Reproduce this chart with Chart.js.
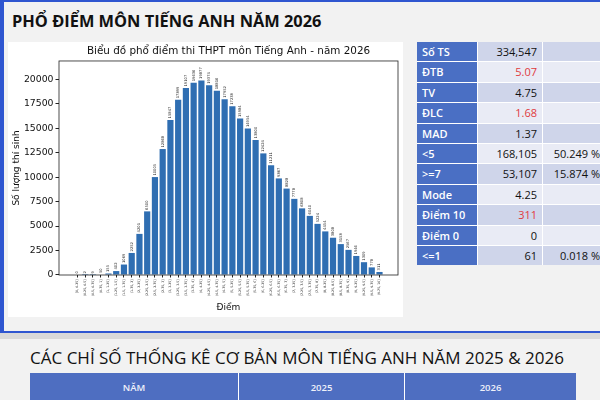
<!DOCTYPE html>
<html>
<head>
<meta charset="utf-8">
<script src="https://cdn.jsdelivr.net/npm/chart.js@4.4.1/dist/chart.umd.min.js"></script>
<style>
html, body { margin: 0; padding: 0; width: 600px; height: 400px; overflow: hidden; background: #d9d9d9; font-family: "Open Sans", "Noto Sans", sans-serif; }
#panel1 { position: absolute; left: 0; top: 0; width: 600px; height: 333px; background: #f2f2f2; box-sizing: border-box;
  border-top: 2px solid #2f56d0; border-left: 4px solid #2f56d0; border-bottom: 2px solid #2f56d0; }
#title1 { position: absolute; left: 12px; top: 13px; font-size: 16.4px; line-height: 16px; font-weight: 700; color: #111; white-space: nowrap; }
#chartBox { position: absolute; left: 8px; top: 42px; width: 395px; height: 275px; background: #fff; }
#stats { position: absolute; left: 417px; top: 42px; width: 190px; display: grid; grid-template-columns: 60px 64px 62px;
  grid-auto-rows: 19.4px; gap: 1px; background: #fff; font-size: 11px; }
#stats div { line-height: 19.4px; white-space: nowrap; }
#stats .lab { background: #4a6fc4; color: #fff; font-weight: 600; padding-left: 5px; }
#stats .val { text-align: right; padding-right: 5px; color: #111; }
#stats .dark { background: #cfd5ea; }
#stats .light { background: #e9ebf5; }
#stats .red { color: #e03a3e; }
#panel2 { position: absolute; left: 0; top: 339px; width: 600px; height: 61px; background: #f2f2f2; }
#title2 { position: absolute; left: 0; width: 594px; top: 349px; text-align: center; font-size: 17px; line-height: 17px; color: #111; white-space: nowrap; }
#yearHead { position: absolute; left: 30px; top: 373px; height: 30px; display: flex; gap: 1px; background: #fff; }
#yearHead div { background: #4e6ec1; color: #eef1fa; font-size: 9.5px; font-weight: 600; line-height: 30px; text-align: center; }
</style>
</head>
<body>
<div id="panel1"></div>
<div id="title1">PHỔ ĐIỂM MÔN TIẾNG ANH NĂM 2026</div>
<div id="chartBox"><canvas id="myChart" width="395" height="275"></canvas></div>
<div id="stats"></div>
<div id="panel2"></div>
<div id="title2">CÁC CHỈ SỐ THỐNG KÊ CƠ BẢN MÔN TIẾNG ANH NĂM 2025 &amp; 2026</div>
<div id="yearHead">
  <div style="width:208px">NĂM</div><div style="width:165px">2025</div><div style="width:171px">2026</div>
</div>
<script>
// Score bins (x labels) and number of students per bin
const scoreBins = [
    '[0, 0.25]', '(0.25, 0.5]', '(0.5, 0.75]', '(0.75, 1]', '(1, 1.25]', '(1.25, 1.5]', '(1.5, 1.75]', '(1.75, 2]',
    '(2, 2.25]', '(2.25, 2.5]', '(2.5, 2.75]', '(2.75, 3]', '(3, 3.25]', '(3.25, 3.5]', '(3.5, 3.75]', '(3.75, 4]',
    '(4, 4.25]', '(4.25, 4.5]', '(4.5, 4.75]', '(4.75, 5]', '(5, 5.25]', '(5.25, 5.5]', '(5.5, 5.75]', '(5.75, 6]',
    '(6, 6.25]', '(6.25, 6.5]', '(6.5, 6.75]', '(6.75, 7]', '(7, 7.25]', '(7.25, 7.5]', '(7.5, 7.75]', '(7.75, 8]',
    '(8, 8.25]', '(8.25, 8.5]', '(8.5, 8.75]', '(8.75, 9]', '(9, 9.25]', '(9.25, 9.5]', '(9.5, 9.75]', '(9.75, 10]'
];
const studentCounts = [
    0, 2, 9, 50, 155, 402, 1069, 2252, 4201, 6500,
    10005, 12868, 15847, 17899, 19107, 19636, 19877, 19374, 18816, 17952,
    17238, 15984, 14954, 13800, 12424, 11211, 9867, 8828, 7778, 6808,
    6040, 5224, 4454, 3808, 3158, 2567, 1946, 1309, 778, 311
];
const yTicks = [0, 2500, 5000, 7500, 10000, 12500, 15000, 17500, 20000];

// Stats table on the right
const statLabels = ['Số TS', 'ĐTB', 'TV', 'ĐLC', 'MAD', '<5', '>=7', 'Mode', 'Điểm 10', 'Điểm 0', '<=1'];
const statValues = ['334,547', '5.07', '4.75', '1.68', '1.37', '168,105', '53,107', '4.25', '311', '0', '61'];
const statPercents = ['', '', '', '', '', '50.249 %', '15.874 %', '', '', '', '0.018 %'];
const statRed = ['ĐTB', 'ĐLC', 'Điểm 10'];

const stats = document.getElementById('stats');
statLabels.forEach((lab, i) => {
    const shade = i % 2 === 0 ? 'dark' : 'light';
    const red = statRed.includes(lab) ? ' red' : '';
    const a = document.createElement('div'); a.className = 'lab'; a.textContent = lab;
    const b = document.createElement('div'); b.className = 'val ' + shade + red; b.textContent = statValues[i];
    const c = document.createElement('div'); c.className = 'val ' + shade; c.textContent = statPercents[i];
    stats.append(a, b, c);
});

// value text above every bar
const barValueLabels = {
    id: 'barValueLabels',
    afterDatasetsDraw(chart) {
        const ctx = chart.ctx;
        const meta = chart.getDatasetMeta(0);
        ctx.save();
        ctx.font = '3.7px "DejaVu Sans"';
        ctx.fillStyle = '#222';
        ctx.textAlign = 'left';
        ctx.textBaseline = 'middle';
        meta.data.forEach((bar, i) => {
            ctx.save();
            ctx.translate(bar.x, bar.y - 1.5);
            ctx.rotate(-Math.PI / 2);
            ctx.fillText(String(studentCounts[i]), 0, 0);
            ctx.restore();
        });
        ctx.restore();
    }
};

// box around the plot like matplotlib spines
const axesFrame = {
    id: 'axesFrame',
    afterDraw(chart) {
        const { ctx, chartArea: a } = chart;
        ctx.save();
        ctx.strokeStyle = '#222';
        ctx.lineWidth = 0.8;
        ctx.strokeRect(a.left, a.top, a.right - a.left, a.bottom - a.top);
        ctx.restore();
    }
};

const maxY = Math.max(...studentCounts) * 1.1;

const ctx = document.getElementById('myChart').getContext('2d');
const myChart = new Chart(ctx, {
    type: 'bar',
    data: {
        datasets: [{
            label: 'Số lượng thí sinh',
            data: studentCounts.map((v, i) => ({ x: i, y: v })),
            backgroundColor: '#2f6eb2',
            barPercentage: 0.8,
            categoryPercentage: 1.0
        }]
    },
    options: {
        responsive: false,
        animation: false,
        layout: { padding: { left: 0, right: 5, top: 0, bottom: 0 } },
        plugins: {
            legend: { display: false },
            tooltip: { enabled: false },
            title: {
                display: true,
                text: 'Biểu đồ phổ điểm thi THPT môn Tiếng Anh - năm 2026',
                fullSize: false,
                color: '#111',
                font: { family: 'DejaVu Sans', size: 10.4, weight: 'normal' },
                padding: { top: 3.5, bottom: 3 }
            }
        },
        scales: {
            x: {
                type: 'linear',
                offset: false,
                min: -2.39,
                max: scoreBins.length - 1 + 2.39,
                afterBuildTicks: (s) => { s.ticks = scoreBins.map((_, i) => ({ value: i })); },
                afterFit: (s) => { s.height = 42; },
                ticks: {
                    autoSkip: false,
                    minRotation: 90,
                    maxRotation: 90,
                    padding: 2,
                    color: '#222',
                    font: { family: 'DejaVu Sans', size: 3.2 },
                    callback: (v) => scoreBins[v] ?? ''
                },
                grid: { offset: false, drawOnChartArea: false, tickLength: 2.5, color: '#222' },
                border: { display: false },
                title: { display: true, text: 'Điểm', color: '#111', font: { family: 'DejaVu Sans', size: 9 }, padding: { top: 0, bottom: 4 } }
            },
            y: {
                type: 'linear',
                min: 0,
                max: maxY,
                afterBuildTicks: (s) => { s.ticks = yTicks.map(v => ({ value: v })); },
                afterFit: (s) => { s.width = 51; },
                ticks: { autoSkip: false, padding: 2, color: '#111', font: { family: 'DejaVu Sans', size: 9.3 },
                    callback: (v) => String(v) },
                grid: { drawOnChartArea: false, tickLength: 3.5, color: '#222' },
                border: { display: false },
                title: { display: true, text: 'Số lượng thí sinh', color: '#111', font: { family: 'DejaVu Sans', size: 9 }, padding: { top: 3.5 } }
            }
        }
    },
    plugins: [barValueLabels, axesFrame]
});
</script>
</body>
</html>
